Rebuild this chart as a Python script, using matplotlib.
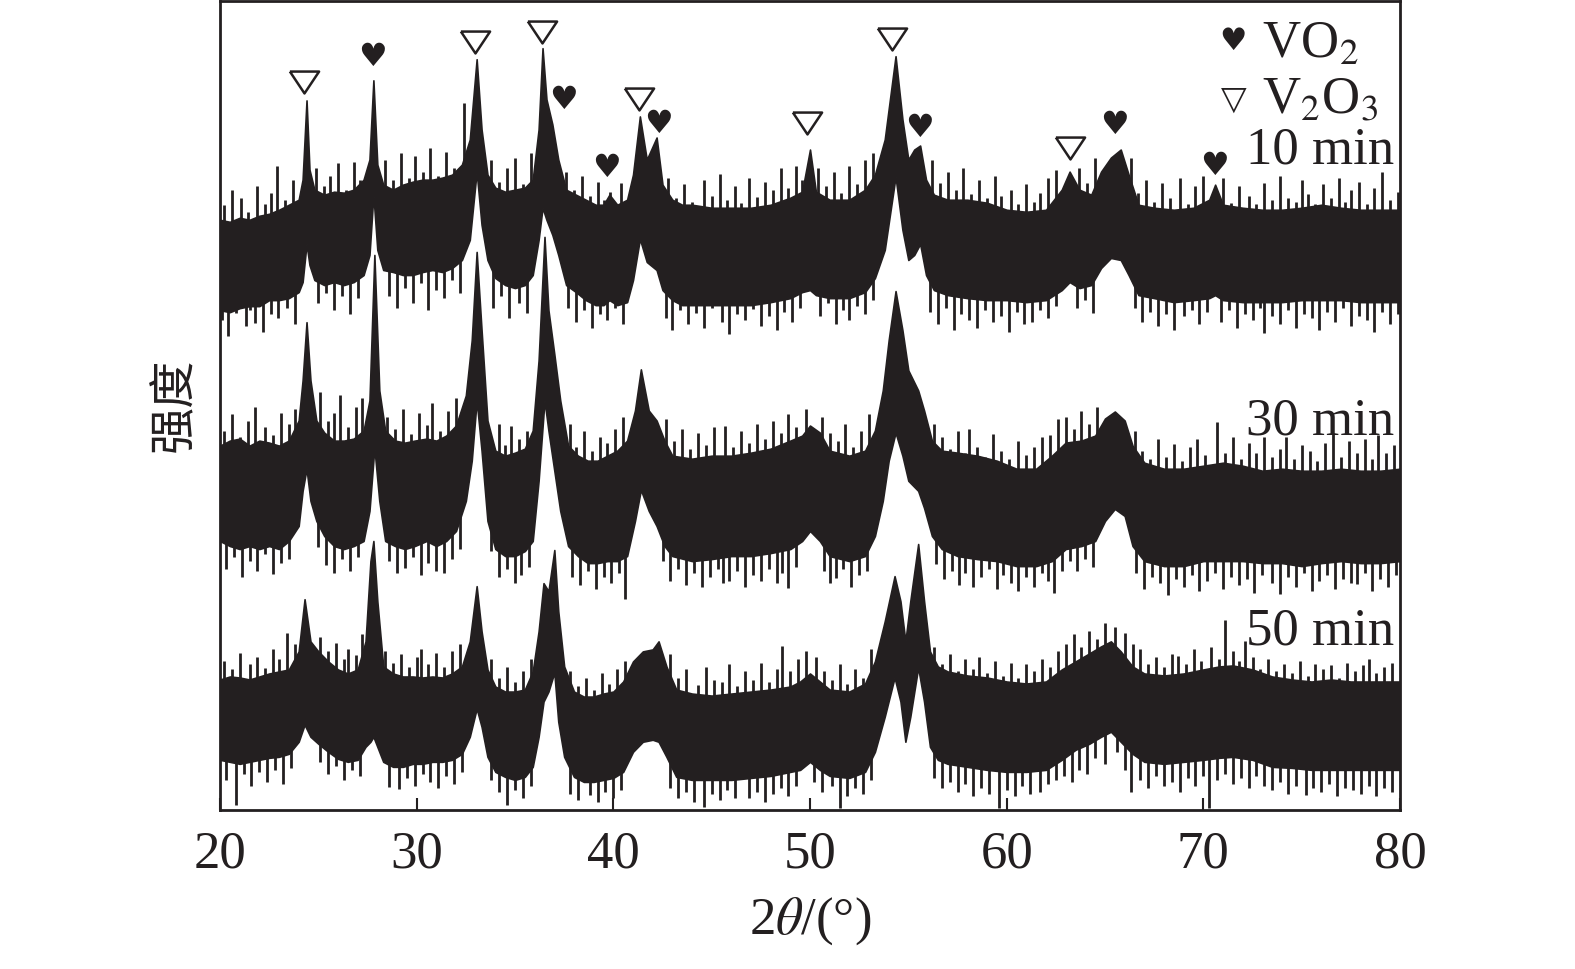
import matplotlib
matplotlib.use("Agg")
import matplotlib.pyplot as plt

plt.rcParams['font.family'] = ['Liberation Serif', 'DejaVu Sans']
plt.rcParams['mathtext.fontset'] = 'stix'

INK = '#231f20'

# ---------------- data (arbitrary intensity units) ----------------
x_10 = [20.0, 20.5, 21.0, 21.5, 22.0, 22.5, 23.0, 23.5, 24.0, 24.2, 24.4, 24.55, 24.8, 25.3, 25.8, 26.3,
        26.8, 27.3, 27.6, 27.8, 28.0, 28.3, 28.8, 29.3, 29.8, 30.3, 30.8, 31.3, 31.8, 32.3, 32.7, 33.05,
        33.3, 33.6, 34.0, 34.5, 35.0, 35.5, 35.9, 36.2, 36.4, 36.6, 36.9, 37.2, 37.6, 38.1, 38.6, 39.1,
        39.5, 39.8, 40.2, 40.7, 41.0, 41.35, 41.7, 42.2, 42.5, 43.0, 43.5, 44.0, 45.0, 46.0, 47.0, 48.0,
        49.0, 49.6, 50.0, 50.3, 51.0, 52.0, 52.8, 53.3, 53.8, 54.35, 54.7, 55.0, 55.3, 55.6, 55.9, 56.3,
        57.0, 58.0, 59.0, 60.0, 61.0, 62.0, 62.8, 63.2, 63.7, 64.3, 64.8, 65.3, 65.8, 66.2, 66.7, 67.5,
        68.5, 69.5, 70.3, 70.6, 71.0, 72.0, 73.0, 74.0, 75.0, 76.0, 77.0, 78.0, 79.0, 80.0]
top_10 = [588, 586, 590, 588, 592, 594, 598, 603, 608, 628, 707, 638, 618, 613, 616, 615,
          618, 628, 648, 727, 643, 623, 618, 623, 626, 628, 628, 630, 633, 643, 668, 748,
          678, 633, 620, 616, 618, 620, 628, 678, 759, 708, 683, 648, 618, 613, 608, 603,
          603, 613, 603, 608, 633, 691, 648, 670, 623, 608, 603, 603, 600, 600, 600, 603,
          610, 616, 658, 616, 608, 608, 618, 633, 668, 751, 688, 648, 658, 662, 628, 613,
          608, 608, 605, 598, 596, 598, 618, 636, 618, 613, 636, 650, 658, 633, 603, 600,
          598, 600, 608, 623, 603, 600, 598, 598, 600, 603, 600, 598, 598, 598]
bot_10 = [498, 496, 500, 502, 502, 508, 508, 510, 516, 526, 564, 543, 528, 523, 526, 523,
          526, 533, 553, 613, 558, 538, 536, 533, 533, 536, 538, 536, 540, 548, 568, 636,
          583, 548, 530, 523, 520, 523, 533, 568, 600, 588, 573, 553, 523, 516, 508, 503,
          503, 508, 503, 506, 528, 569, 546, 538, 518, 508, 503, 503, 503, 503, 503, 506,
          510, 516, 518, 513, 510, 510, 516, 530, 558, 631, 578, 548, 553, 564, 533, 518,
          513, 510, 508, 508, 506, 508, 518, 526, 520, 523, 540, 550, 548, 533, 513, 510,
          506, 508, 510, 513, 508, 506, 506, 506, 508, 508, 508, 506, 506, 506]

x_30 = [20.0, 20.5, 21.0, 21.5, 22.0, 22.5, 23.0, 23.5, 24.0, 24.2, 24.4, 24.6, 24.9, 25.3, 25.8, 26.3,
        26.8, 27.3, 27.6, 27.85, 28.1, 28.4, 28.9, 29.4, 29.9, 30.5, 31.0, 31.5, 32.0, 32.5, 32.8, 33.05,
        33.3, 33.6, 34.0, 34.5, 35.0, 35.5, 35.9, 36.2, 36.5, 36.7, 37.0, 37.3, 37.7, 38.2, 38.7, 39.2,
        39.7, 40.2, 40.7, 41.1, 41.4, 41.8, 42.2, 42.6, 43.0, 44.0, 45.0, 46.0, 47.0, 48.0, 49.0, 49.6,
        50.0, 50.5, 51.0, 52.0, 52.8, 53.3, 53.7, 54.0, 54.35, 54.7, 55.0, 55.5, 55.8, 56.2, 56.7, 57.5,
        58.5, 59.5, 60.5, 61.5, 62.3, 63.0, 63.8, 64.5, 65.0, 65.5, 66.0, 66.4, 67.0, 68.0, 69.0, 70.0,
        71.0, 72.0, 73.0, 74.0, 75.0, 76.0, 77.0, 78.0, 79.0, 80.0]
top_30 = [363, 368, 370, 363, 368, 366, 363, 368, 388, 428, 486, 428, 388, 376, 368, 368,
          370, 378, 408, 553, 418, 378, 368, 366, 368, 370, 368, 373, 383, 413, 468, 556,
          478, 388, 358, 353, 356, 360, 378, 448, 571, 498, 454, 408, 363, 353, 348, 348,
          353, 358, 368, 398, 439, 398, 388, 368, 353, 350, 353, 353, 356, 360, 368, 373,
          383, 376, 358, 353, 358, 378, 418, 468, 517, 478, 438, 418, 398, 368, 358, 356,
          353, 348, 340, 340, 353, 366, 368, 373, 390, 397, 388, 363, 346, 340, 340, 343,
          346, 343, 338, 340, 338, 338, 340, 338, 338, 340]
bot_30 = [268, 263, 260, 263, 260, 263, 260, 268, 283, 318, 340, 308, 288, 273, 263, 260,
          263, 268, 298, 361, 308, 268, 263, 260, 263, 268, 263, 268, 278, 308, 348, 408,
          358, 288, 260, 253, 253, 258, 268, 328, 408, 378, 338, 298, 263, 253, 246, 246,
          248, 248, 253, 288, 319, 298, 283, 263, 253, 248, 250, 253, 253, 256, 260, 268,
          278, 268, 253, 248, 253, 273, 308, 348, 376, 353, 328, 318, 301, 273, 260, 253,
          250, 248, 243, 243, 248, 260, 263, 268, 288, 300, 293, 263, 248, 243, 243, 248,
          248, 248, 246, 246, 243, 246, 248, 246, 246, 248]

x_50 = [20.0, 20.5, 21.0, 21.5, 22.0, 22.5, 23.0, 23.5, 24.0, 24.3, 24.6, 25.0, 25.5, 26.0, 26.5, 27.0,
        27.4, 27.65, 27.8, 28.0, 28.3, 28.8, 29.3, 29.8, 30.3, 30.8, 31.3, 31.8, 32.3, 32.7, 33.05, 33.3,
        33.6, 34.0, 34.5, 35.0, 35.5, 35.9, 36.2, 36.45, 36.7, 37.0, 37.2, 37.5, 38.0, 38.5, 39.0, 39.5,
        40.0, 40.5, 41.0, 41.5, 42.0, 42.3, 42.7, 43.2, 44.0, 45.0, 46.0, 47.0, 48.0, 49.0, 49.5, 50.0,
        50.5, 51.0, 52.0, 52.8, 53.3, 53.8, 54.3, 54.6, 54.85, 55.1, 55.5, 55.8, 56.1, 56.5, 57.0, 58.0,
        59.0, 60.0, 61.0, 62.0, 62.8, 63.5, 64.2, 64.8, 65.3, 65.8, 66.4, 67.0, 68.0, 69.0, 70.0, 70.8,
        71.5, 72.5, 73.5, 74.5, 75.5, 76.5, 77.5, 78.5, 79.5, 80.0]
top_50 = [130, 133, 132, 130, 133, 136, 138, 140, 158, 210, 168, 158, 148, 140, 136, 140,
          168, 248, 268, 208, 143, 136, 133, 133, 132, 133, 132, 136, 143, 168, 223, 178,
          140, 123, 118, 118, 120, 138, 178, 226, 218, 259, 198, 143, 118, 113, 113, 116,
          118, 128, 148, 158, 160, 168, 143, 120, 116, 114, 116, 118, 120, 123, 128, 136,
          128, 120, 118, 126, 148, 188, 233, 208, 168, 208, 265, 208, 158, 143, 138, 134,
          132, 128, 126, 128, 140, 148, 156, 163, 168, 158, 143, 136, 134, 136, 140, 143,
          144, 140, 133, 130, 128, 130, 128, 128, 128, 128]
bot_50 = [50, 48, 46, 48, 50, 52, 53, 56, 68, 85, 73, 66, 58, 51, 48, 50,
          63, 68, 73, 63, 48, 43, 43, 46, 46, 48, 48, 50, 56, 73, 101, 83,
          53, 38, 33, 30, 33, 43, 73, 108, 118, 137, 88, 53, 33, 28, 28, 30,
          32, 38, 58, 68, 70, 68, 53, 33, 30, 30, 30, 32, 34, 38, 40, 48,
          40, 34, 32, 38, 58, 93, 132, 108, 68, 93, 142, 108, 63, 50, 46, 43,
          40, 38, 38, 40, 50, 60, 66, 73, 78, 68, 56, 48, 46, 48, 50, 52,
          53, 50, 43, 42, 40, 40, 40, 40, 40, 40]

# noise spikes (position, tip) – upward and downward
up_x_10 = [20.2, 20.6, 21.07, 21.4, 21.9, 22.3, 22.6, 22.9, 23.3, 23.7, 24.9, 25.3, 25.6, 26.0, 26.4, 26.8,
           27.1, 28.4, 28.8, 29.2, 29.6, 29.9, 30.3, 30.7, 31.1, 31.5, 31.9, 32.4, 33.8, 34.2, 34.6, 35.0,
           35.4, 35.8, 37.6, 38.0, 38.4, 38.8, 39.2, 39.5, 39.85, 40.4, 42.8, 43.2, 43.6, 44.0, 44.6, 45.0,
           45.4, 45.8, 46.2, 46.5, 46.9, 47.3, 47.7, 48.1, 48.5, 48.9, 49.3, 49.6, 50.4, 50.8, 51.2, 51.6,
           52.0, 52.4, 52.8, 53.2, 56.2, 56.6, 57.0, 57.4, 57.8, 58.2, 58.6, 59.0, 59.4, 59.7, 60.2, 60.6,
           61.0, 61.4, 61.7, 62.1, 62.5, 63.7, 64.1, 64.5, 66.3, 66.7, 67.1, 67.5, 67.9, 68.3, 68.8, 69.2,
           69.6, 70.0, 71.0, 71.4, 71.8, 72.3, 72.7, 73.1, 73.5, 73.9, 74.3, 74.7, 75.0, 75.3, 75.7, 76.1,
           76.5, 76.9, 77.2, 77.5, 77.9, 78.3, 78.7, 79.1, 79.5, 79.9]
up_y_10 = [603, 618, 610, 596, 622, 604, 615, 642, 608, 628,
           640, 622, 632, 645, 618, 646, 628,
           648, 628, 655, 630, 652, 636, 660, 632, 656, 640, 704,
           648, 626, 640, 650, 624, 655,
           636, 618, 632, 612, 626, 608, 616, 625,
           630, 610, 624, 606, 628, 612, 634, 608, 622, 605, 630, 611, 626, 618, 640, 620, 642, 628,
           640, 622, 636, 615, 642, 624, 648, 655,
           648, 625, 636, 618, 640, 614, 628, 610, 632, 612, 618, 604, 624, 606, 615, 630, 638,
           640, 625, 650,
           650, 615, 628, 606, 625, 610, 630, 604, 622, 632,
           630, 605, 622, 612, 604, 625, 608, 632, 610, 606, 628, 614, 604, 624, 610, 630, 606, 618,
           626, 604, 620, 636, 608, 616]
dn_x_10 = [20.1, 20.4, 20.8, 21.3, 21.5, 21.8, 22.2, 22.6, 22.95, 23.4, 23.8, 25.0, 25.4, 25.8, 26.2, 26.6,
           27.0, 28.6, 29.0, 29.4, 29.8, 30.2, 30.6, 31.0, 31.4, 31.8, 32.2, 33.9, 34.3, 34.7, 35.2, 35.6,
           37.7, 38.1, 38.5, 38.9, 39.3, 39.7, 40.1, 40.5, 42.7, 43.0, 43.4, 43.8, 44.2, 44.6, 45.0, 45.5,
           45.9, 46.3, 46.7, 47.1, 47.5, 47.9, 48.3, 48.7, 49.1, 49.5, 50.5, 50.9, 51.3, 51.7, 52.0, 52.4,
           52.8, 53.2, 56.1, 56.5, 56.9, 57.3, 57.7, 58.1, 58.5, 58.9, 59.3, 59.7, 60.1, 60.5, 60.9, 61.3,
           61.7, 62.1, 62.5, 63.6, 64.0, 64.4, 66.5, 66.9, 67.3, 67.7, 68.1, 68.5, 69.0, 69.4, 69.8, 70.2,
           70.9, 71.3, 71.7, 72.1, 72.5, 72.9, 73.1, 73.5, 73.9, 74.3, 74.7, 75.1, 75.5, 75.9, 76.3, 76.7,
           77.1, 77.5, 77.9, 78.3, 78.7, 79.1, 79.5, 79.9]
dn_y_10 = [488, 472, 495, 482, 498, 485, 476, 494, 490, 500, 484,
           505, 515, 498, 512, 494, 510,
           512, 500, 520, 505, 525, 498, 518, 510, 528, 515,
           500, 512, 490, 505, 495,
           500, 486, 498, 480, 494, 488, 500, 484,
           490, 478, 498, 484, 495, 480, 500, 486, 474, 494, 488, 499, 482, 492, 478, 496, 486, 500,
           492, 505, 484, 498, 488, 502, 494, 508,
           496, 484, 500, 478, 494, 488, 480, 498, 486, 492, 476, 496, 484, 486, 498, 490, 502,
           500, 508, 495,
           500, 486, 496, 482, 494, 478, 492, 498, 484, 496,
           486, 498, 480, 494, 488, 500, 475, 492, 484, 498, 480, 494, 490, 478, 496, 486, 500, 482,
           492, 488, 476, 496, 484, 494]

up_x_30 = [20.2, 20.6, 21.0, 21.4, 21.8, 22.3, 22.7, 23.1, 23.5, 23.8, 25.1, 25.5, 25.8, 26.1, 26.5, 26.9,
           27.2, 28.5, 28.9, 29.3, 29.7, 30.1, 30.5, 30.8, 31.2, 31.6, 32.0, 33.8, 34.2, 34.5, 34.8, 35.2,
           35.6, 37.8, 38.1, 38.5, 38.9, 39.3, 39.7, 40.1, 40.5, 42.7, 43.1, 43.5, 43.9, 44.3, 44.7, 45.1,
           45.7, 46.1, 46.5, 46.9, 47.3, 47.7, 48.1, 48.5, 48.9, 49.3, 49.8, 50.6, 51.0, 51.4, 51.8, 52.2,
           52.6, 53.0, 56.3, 56.7, 57.1, 57.5, 57.9, 58.1, 58.5, 58.9, 59.3, 59.7, 60.1, 60.6, 61.0, 61.4,
           61.8, 62.2, 62.6, 63.0, 63.4, 63.8, 64.2, 64.6, 66.5, 66.9, 67.3, 67.7, 68.1, 68.5, 68.9, 69.3,
           69.7, 70.1, 70.7, 71.1, 71.5, 71.9, 72.3, 72.7, 73.1, 73.5, 73.9, 74.2, 74.6, 75.0, 75.4, 75.8,
           76.2, 76.6, 77.0, 77.4, 77.8, 78.2, 78.6, 78.9, 79.3, 79.7]
up_y_30 = [378, 395, 372, 388, 402, 382, 374, 396, 385, 400,
           416, 388, 396, 413, 382, 402, 410,
           392, 380, 400, 375, 396, 384, 405, 378, 398, 410,
           372, 385, 364, 383, 370, 378,
           385, 362, 378, 358, 372, 366, 380, 392,
           390, 368, 380, 360, 376, 364, 382, 383, 362, 378, 366, 385, 370, 388, 376, 395, 382, 400,
           392, 376, 368, 385, 362, 378, 395,
           385, 372, 360, 378, 356, 380, 362, 352, 375, 358, 350, 368, 354, 362, 372, 374, 390,
           392, 380, 398, 385, 402,
           378, 358, 350, 370, 352, 365, 348, 362, 370, 354, 387, 356, 372, 350, 366, 356, 372, 352,
           360, 372, 350, 364, 358, 348, 366, 376, 352, 368, 356, 370, 350, 374, 356, 364]
dn_x_30 = [20.3, 20.7, 21.1, 21.5, 21.9, 22.3, 22.7, 23.1, 23.5, 25.0, 25.4, 25.8, 26.2, 26.6, 27.0, 28.6,
           29.0, 29.4, 29.8, 30.2, 30.6, 31.0, 31.4, 31.8, 32.2, 33.8, 34.2, 34.6, 35.0, 35.3, 35.7, 37.9,
           38.3, 38.7, 39.1, 39.5, 39.9, 40.3, 40.6, 42.5, 42.9, 43.3, 43.7, 44.1, 44.5, 44.9, 45.3, 45.6,
           45.9, 46.3, 46.7, 47.1, 47.5, 47.9, 48.3, 48.6, 48.9, 49.3, 50.7, 51.0, 51.3, 51.7, 52.1, 52.5,
           52.9, 56.4, 56.8, 57.2, 57.6, 57.9, 58.3, 58.7, 59.1, 59.5, 59.8, 60.2, 60.6, 61.0, 61.4, 61.8,
           62.1, 62.4, 62.8, 63.2, 63.6, 64.0, 64.4, 66.6, 67.0, 67.4, 67.8, 68.2, 68.6, 69.0, 69.4, 69.8,
           70.2, 70.6, 71.0, 71.4, 71.8, 72.2, 72.6, 73.0, 73.5, 73.9, 74.3, 74.7, 75.1, 75.5, 75.9, 76.3,
           76.7, 77.1, 77.5, 77.8, 78.2, 78.6, 79.0, 79.4, 79.8]
dn_y_30 = [240, 252, 232, 248, 238, 255, 235, 246, 250,
           262, 244, 236, 250, 238, 252,
           248, 236, 241, 252, 234, 246, 238, 236, 250, 260,
           258, 232, 240, 226, 234, 242,
           232, 224, 238, 220, 232, 226, 236, 210,
           248, 228, 240, 224, 236, 222, 232, 240, 226, 228, 238, 222, 234, 228, 240, 226, 236, 221, 242,
           238, 226, 231, 240, 222, 234, 238,
           245, 230, 238, 224, 236, 222, 232, 240, 220, 234, 226, 218, 232, 222, 236, 228, 216, 238,
           248, 238, 250, 242,
           236, 220, 232, 226, 214, 230, 222, 234, 218, 228, 236, 220, 232, 224, 230, 216, 234, 226,
           215, 232, 222, 236, 218, 228, 234, 220, 230, 226, 225, 236, 218, 230, 222, 234]

up_x_50 = [20.2, 20.6, 21.0, 21.5, 21.9, 22.3, 22.7, 23.0, 23.4, 23.8, 25.1, 25.5, 25.9, 26.3, 26.5, 26.9,
           27.2, 28.4, 28.8, 29.2, 29.6, 30.0, 30.2, 30.6, 31.0, 31.4, 31.8, 32.2, 33.8, 34.2, 34.6, 35.0,
           35.4, 35.8, 37.8, 38.2, 38.6, 39.0, 39.4, 39.8, 40.2, 40.6, 42.9, 43.3, 43.7, 44.3, 44.7, 45.1,
           45.5, 45.9, 46.3, 46.7, 47.1, 47.5, 47.9, 48.3, 48.6, 49.0, 49.4, 49.8, 50.3, 50.7, 51.1, 51.5,
           51.9, 52.3, 52.7, 53.1, 56.3, 56.7, 57.1, 57.5, 57.9, 58.3, 58.6, 59.0, 59.4, 59.8, 60.2, 60.6,
           61.0, 61.4, 61.8, 62.2, 62.6, 63.0, 63.4, 63.8, 64.2, 64.6, 65.0, 65.5, 66.0, 66.4, 66.8, 67.2,
           67.6, 68.0, 68.4, 68.7, 69.1, 69.5, 69.9, 70.4, 70.8, 71.1, 71.5, 71.8, 72.1, 72.5, 72.9, 73.3,
           73.7, 74.1, 74.5, 74.9, 75.3, 75.7, 76.1, 76.5, 76.9, 77.3, 77.7, 78.1, 78.4, 78.8, 79.2, 79.6]
up_y_50 = [148, 140, 156, 145, 152, 141, 160, 150, 176, 165,
           172, 158, 166, 150, 160, 154, 175,
           158, 146, 155, 142, 152, 160, 145, 156, 142, 158, 165,
           150, 132, 142, 128, 138, 150,
           138, 124, 132, 120, 136, 126, 140, 148,
           155, 132, 140, 125, 142, 130, 128, 145, 124, 138, 130, 146, 128, 140, 163, 138, 150, 158,
           152, 138, 130, 145, 126, 140, 132, 160,
           162, 145, 155, 138, 150, 140, 152, 136, 148, 134, 146, 132, 145, 138, 150, 142, 158,
           165, 175, 162, 178, 170, 186, 182, 176, 165,
           160, 145, 152, 142, 155, 153, 145, 160, 148, 162, 150, 189, 158, 148, 168, 152, 140, 150,
           138, 145, 136, 148, 134, 145, 140, 144, 132, 146, 138, 144, 150, 136, 142, 146]
dn_x_50 = [20.3, 20.8, 21.2, 21.6, 22.0, 22.4, 22.8, 23.2, 23.6, 25.1, 25.5, 25.9, 26.3, 26.7, 27.1, 28.6,
           29.1, 29.5, 29.9, 30.3, 30.7, 31.1, 31.5, 31.9, 32.3, 33.8, 34.2, 34.6, 35.0, 35.4, 35.8, 37.8,
           38.2, 38.8, 39.2, 39.6, 40.0, 40.4, 42.9, 43.3, 43.7, 44.1, 44.6, 45.0, 45.4, 45.8, 46.2, 46.9,
           47.3, 47.7, 48.1, 48.5, 48.9, 49.3, 50.2, 50.6, 51.1, 51.5, 51.9, 52.3, 52.7, 53.1, 56.3, 56.7,
           57.1, 57.5, 57.9, 58.3, 58.7, 59.1, 59.6, 60.0, 60.4, 60.8, 61.2, 61.7, 62.1, 62.5, 62.9, 63.3,
           63.7, 64.1, 64.5, 65.0, 65.6, 66.0, 66.3, 66.8, 67.2, 67.6, 68.0, 68.4, 68.8, 69.2, 69.6, 70.0,
           70.3, 70.7, 71.1, 71.5, 71.9, 72.3, 72.7, 73.1, 73.5, 73.9, 74.3, 74.7, 75.2, 75.6, 76.0, 76.4,
           76.8, 77.2, 77.6, 78.0, 78.4, 78.8, 79.2, 79.6]
dn_y_50 = [30, 5, 36, 24, 38, 28, 40, 26, 42,
           48, 36, 44, 30, 40, 34,
           23, 21, 32, 24, 36, 28, 22, 34, 26, 38,
           30, 18, 5, 20, 12, 24,
           16, 10, 15, 8, 18, 12, 20,
           22, 12, 18, 8, 3, 16, 10, 20, 12, 12, 18, 8, 16, 22, 14, 24,
           28, 18, 24, 2, 14, 22, 16, 30,
           32, 22, 28, 18, 26, 14, 22, 16, 2, 20, 14, 24, 16, 18, 26, 30,
           34, 28, 40, 36, 52, 46, 58, 40, 18,
           30, 22, 34, 24, 28, 18, 32, 24, 34, 2, 30, 36, 26, 32, 22, 34, 24, 20,
           28, 16, 24, 15, 22, 18, 26, 14, 22, 20, 16, 24, 14, 22, 18]

# phase markers
v2o3_x = [24.29, 32.96, 36.38, 41.28, 49.85, 54.18, 63.21]
v2o3_y = [725, 765, 775, 708, 684, 768, 660]
vo2_x = [27.76, 37.45, 39.64, 42.30, 55.56, 65.50, 70.55]
vo2_y = [751, 708, 640, 684, 680, 683, 642]

sample_labels = ['10 min', '30 min', '50 min']
legend_labels = ['VO$_2$', 'V$_2$O$_3$']
xticks = [20, 30, 40, 50, 60, 70, 80]

# ---------------- figure ----------------
fig = plt.figure(figsize=(15.75, 9.70), dpi=100)
ax = fig.add_axes([220 / 1575, 1 - 811 / 970, 1180 / 1575, 809 / 970])

traces = [(x_10, top_10, bot_10, up_x_10, up_y_10, dn_x_10, dn_y_10, 560),
          (x_30, top_30, bot_30, up_x_30, up_y_30, dn_x_30, dn_y_30, 305),
          (x_50, top_50, bot_50, up_x_50, up_y_50, dn_x_50, dn_y_50, 85)]
for xs, tp, bt, ux, uy, dx, dy, mid in traces:
    ax.fill_between(xs, bt, tp, color=INK, linewidth=1.2, edgecolor=INK)
    ax.vlines(ux, mid, uy, color=INK, linewidth=2.0)
    ax.vlines(dx, dy, mid, color=INK, linewidth=2.0)

tri = [(-1.0, 0.75), (1.0, 0.75), (0.0, -0.75), (-1.0, 0.75)]
ax.plot(v2o3_x, v2o3_y, linestyle='none', marker=tri, markersize=21,
        markerfacecolor='white', markeredgecolor=INK, markeredgewidth=1.8)
for hx, hy in zip(vo2_x, vo2_y):
    ax.text(hx, hy, '\u2665', family='DejaVu Sans', fontsize=23, color=INK,
            ha='center', va='center')

ax.set_xlim(20, 80)
ax.set_ylim(0, 806)
ax.set_xticks(xticks)
ax.set_yticks([])
ax.tick_params(axis='x', direction='in', length=9, width=1.5, labelsize=38, pad=14,
               colors=INK, labelcolor=INK)
for sp in ax.spines.values():
    sp.set_linewidth(2.0)
    sp.set_color(INK)

ax.set_xlabel(r'2$\mathit{\theta}$/(°)', fontsize=38, color=INK, labelpad=12)
fig.text(175 / 1575, 1 - 405 / 970, '强度', rotation=90, fontsize=34, color=INK,
         family=['Noto Sans CJK SC'], ha='center', va='center')

# sample labels
for lab, yy in zip(sample_labels, [0.816, 0.481, 0.222]):
    ax.text(0.995, yy, lab, transform=ax.transAxes, fontsize=38, color=INK,
            ha='right', va='center')

# phase legend
ax.text(1233 / 1575, 1 - 42 / 970, '\u2665', transform=fig.transFigure, family='DejaVu Sans',
        fontsize=22, color=INK, ha='center', va='center')
ax.text(1234 / 1575, 1 - 99 / 970, '\u25bd', transform=fig.transFigure, family='DejaVu Sans',
        fontsize=24, color=INK, ha='center', va='center')
ax.text(1262 / 1575, 1 - 45 / 970, legend_labels[0], transform=fig.transFigure, fontsize=38,
        color=INK, ha='left', va='center')
ax.text(1262 / 1575, 1 - 100 / 970, legend_labels[1], transform=fig.transFigure, fontsize=38,
        color=INK, ha='left', va='center')

fig.savefig('out.png', dpi=100)
